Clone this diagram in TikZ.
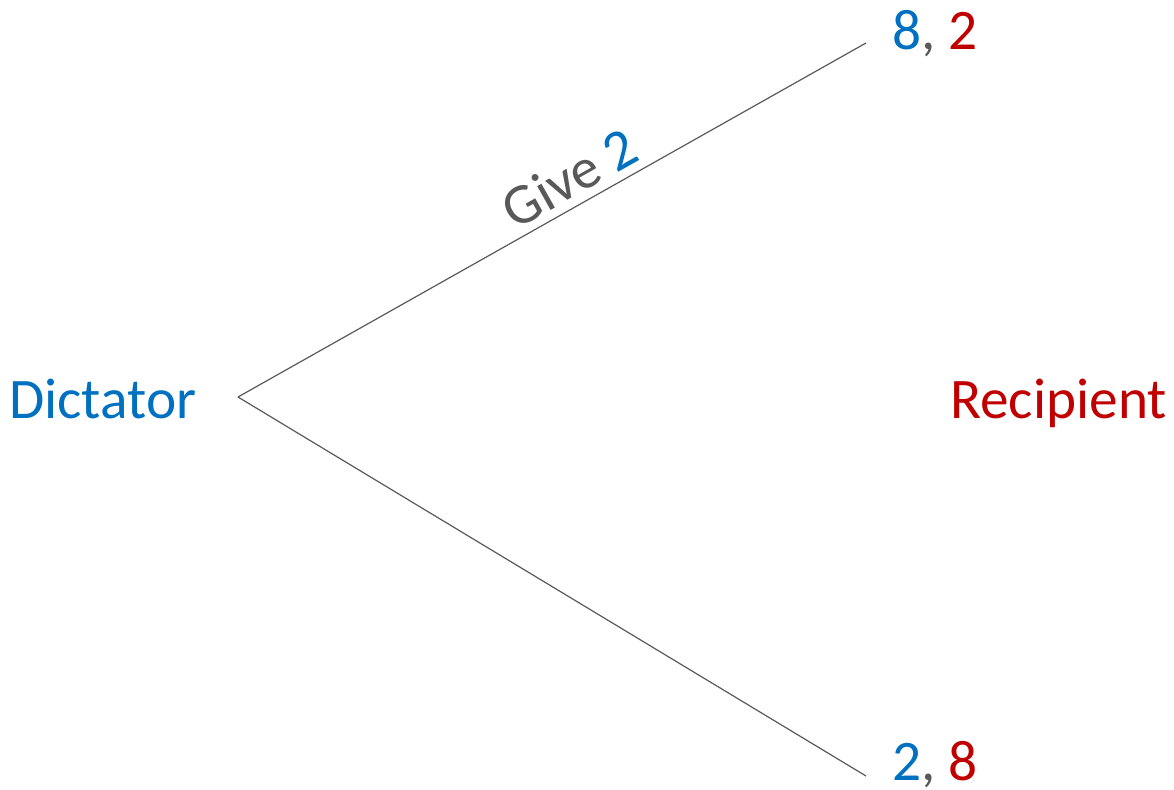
\documentclass[tikz,border=0pt]{standalone}
\usepackage{fontspec}
\setmainfont{Carlito}
\definecolor{dictblue}{HTML}{0070C0}
\definecolor{recred}{HTML}{C00000}
\definecolor{edgegray}{HTML}{595959}
\begin{document}
\begin{tikzpicture}[x=0.75pt,y=-0.75pt,
  payoff/.style={font=\fontsize{43}{50}\selectfont, inner sep=0pt, anchor=base west},
  branch/.style={draw=edgegray, line width=0.9pt}]
\useasboundingbox (0,0) rectangle (1174,789);
% decision node and the two terminal points
\coordinate (root) at (238,397);
\coordinate (up) at (866,43);
\coordinate (down) at (866,776);
% players
\node[payoff, text=dictblue] (dictator) at (9,418) {Dictator};
\node[payoff, text=recred] (recipient) at (950,418) {Recipient};
% payoffs at the leaves
\node[payoff] (payup) at (892,49) {\textcolor{dictblue}{8}\textcolor{edgegray}{,} \textcolor{recred}{2}};
\node[payoff] (paydown) at (892,780) {\textcolor{dictblue}{2}\textcolor{edgegray}{,} \textcolor{recred}{8}};
% branches
\draw[branch] (root) -- node[pos=0.55, sloped, anchor=south, inner sep=6pt,
  font=\fontsize{43}{50}\selectfont, text=edgegray] (give) {Give \textcolor{dictblue}{2}} (up);
\draw[branch] (root) -- (down);
\end{tikzpicture}
\end{document}
